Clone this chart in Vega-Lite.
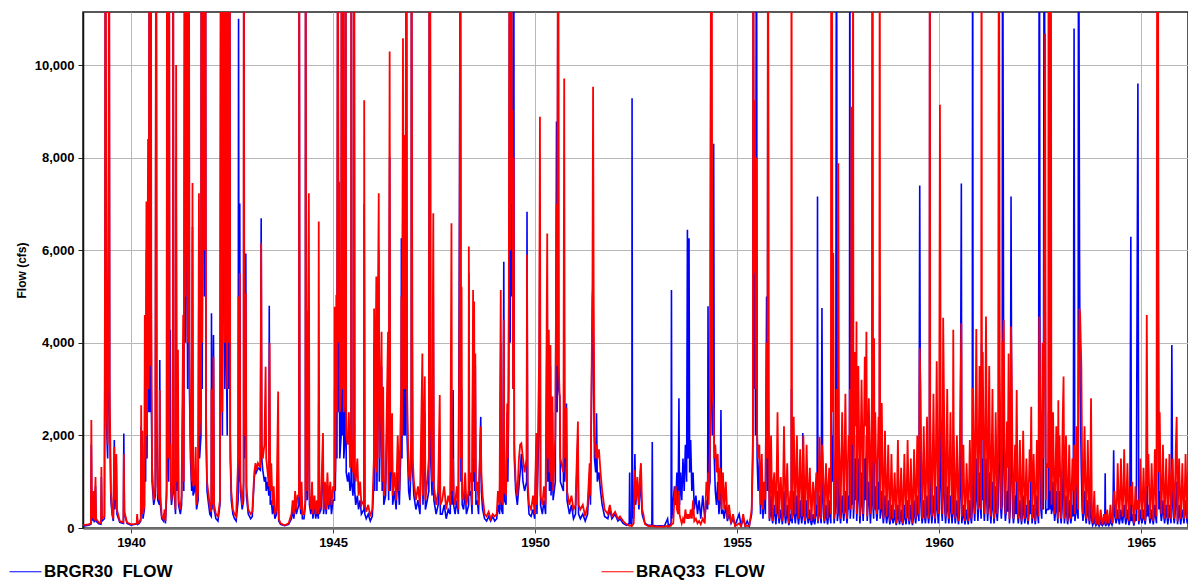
{
"$schema":"https://vega.github.io/schema/vega-lite/v6.json",
"width":1105,"height":516,
"autosize":{"type":"none"},
"padding":{"left":83,"top":12,"right":0,"bottom":52},
"background":"white",
"config":{"view":{"stroke":"#222","strokeWidth":1.5},"font":"Liberation Sans"},
"data":{"values":[
{"t":1938.81,"b":40,"r":60},{"t":1938.95,"b":60,"r":80},{"t":1939.005,"b":80,"r":100},{"t":1939.016,"b":1800,"r":2330},{"t":1939.03,"b":300,"r":400},{"t":1939.06,"b":150,"r":200},{"t":1939.075,"b":500,"r":800},{"t":1939.09,"b":120,"r":160},{"t":1939.12,"b":900,"r":1100},{"t":1939.135,"b":150,"r":200},{"t":1939.2,"b":90,"r":120},{"t":1939.255,"b":80,"r":100},{"t":1939.265,"b":1100,"r":1320},{"t":1939.28,"b":150,"r":200},{"t":1939.34,"b":200,"r":250},{"t":1939.355,"b":4900,"r":6000},{"t":1939.365,"b":16000,"r":16000},{"t":1939.38,"b":4000,"r":9640},{"t":1939.395,"b":2200,"r":2600},{"t":1939.42,"b":1500,"r":1800},{"t":1939.445,"b":5000,"r":8000},{"t":1939.455,"b":16000,"r":16000},{"t":1939.47,"b":2500,"r":3000},{"t":1939.5,"b":600,"r":800},{"t":1939.53,"b":300,"r":350},{"t":1939.56,"b":150,"r":200},{"t":1939.585,"b":1900,"r":1750},{"t":1939.6,"b":400,"r":600},{"t":1939.635,"b":1400,"r":1600},{"t":1939.65,"b":300,"r":400},{"t":1939.72,"b":120,"r":150},{"t":1939.81,"b":100,"r":120},{"t":1939.82,"b":2040,"r":1600},{"t":1939.835,"b":300,"r":350},{"t":1939.9,"b":100,"r":120},{"t":1940.0,"b":60,"r":80},{"t":1940.1,"b":80,"r":90},{"t":1940.14,"b":90,"r":100},{"t":1940.15,"b":250,"r":300},{"t":1940.165,"b":80,"r":100},{"t":1940.2,"b":100,"r":120},{"t":1940.24,"b":150,"r":200},{"t":1940.25,"b":2200,"r":2650},{"t":1940.265,"b":300,"r":400},{"t":1940.28,"b":1800,"r":2100},{"t":1940.295,"b":200,"r":300},{"t":1940.33,"b":400,"r":500},{"t":1940.34,"b":3500,"r":4600},{"t":1940.36,"b":1000,"r":1500},{"t":1940.38,"b":6000,"r":7050},{"t":1940.395,"b":1500,"r":2000},{"t":1940.42,"b":7500,"r":8400},{"t":1940.435,"b":2500,"r":3000},{"t":1940.455,"b":16000,"r":16000},{"t":1940.47,"b":2500,"r":3500},{"t":1940.49,"b":16000,"r":16000},{"t":1940.5,"b":3000,"r":4850},{"t":1940.52,"b":1000,"r":1300},{"t":1940.56,"b":500,"r":600},{"t":1940.6,"b":700,"r":900},{"t":1940.62,"b":16000,"r":16000},{"t":1940.635,"b":2000,"r":2500},{"t":1940.66,"b":600,"r":800},{"t":1940.7,"b":500,"r":600},{"t":1940.71,"b":3630,"r":2980},{"t":1940.725,"b":500,"r":700},{"t":1940.76,"b":200,"r":250},{"t":1940.8,"b":150,"r":200},{"t":1940.83,"b":300,"r":400},{"t":1940.85,"b":100,"r":150},{"t":1940.88,"b":700,"r":900},{"t":1940.89,"b":16000,"r":16000},{"t":1940.9,"b":2000,"r":2500},{"t":1940.93,"b":1000,"r":1500},{"t":1940.94,"b":16000,"r":16000},{"t":1940.955,"b":1500,"r":1800},{"t":1940.97,"b":4280,"r":1800},{"t":1940.985,"b":800,"r":1000},{"t":1941.0,"b":500,"r":600},{"t":1941.035,"b":800,"r":1000},{"t":1941.04,"b":16000,"r":16000},{"t":1941.055,"b":1000,"r":1500},{"t":1941.08,"b":600,"r":800},{"t":1941.1,"b":300,"r":400},{"t":1941.115,"b":8000,"r":10000},{"t":1941.13,"b":800,"r":1000},{"t":1941.16,"b":3000,"r":3850},{"t":1941.175,"b":500,"r":600},{"t":1941.22,"b":300,"r":400},{"t":1941.25,"b":500,"r":700},{"t":1941.29,"b":3500,"r":4600},{"t":1941.305,"b":800,"r":1000},{"t":1941.33,"b":16000,"r":16000},{"t":1941.345,"b":4000,"r":5000},{"t":1941.37,"b":16000,"r":16000},{"t":1941.385,"b":6000,"r":8000},{"t":1941.4,"b":3000,"r":4000},{"t":1941.43,"b":16000,"r":16000},{"t":1941.445,"b":3000,"r":4000},{"t":1941.47,"b":1500,"r":2000},{"t":1941.5,"b":800,"r":1000},{"t":1941.52,"b":6500,"r":7450},{"t":1941.535,"b":700,"r":900},{"t":1941.57,"b":800,"r":960},{"t":1941.6,"b":1200,"r":1750},{"t":1941.62,"b":400,"r":500},{"t":1941.66,"b":600,"r":800},{"t":1941.68,"b":6000,"r":7230},{"t":1941.695,"b":1500,"r":2000},{"t":1941.73,"b":2000,"r":3000},{"t":1941.74,"b":16000,"r":16000},{"t":1941.76,"b":3000,"r":4000},{"t":1941.8,"b":16000,"r":16000},{"t":1941.815,"b":5000,"r":6000},{"t":1941.84,"b":16000,"r":16000},{"t":1941.855,"b":2000,"r":2500},{"t":1941.88,"b":800,"r":1000},{"t":1941.92,"b":500,"r":700},{"t":1941.95,"b":300,"r":450},{"t":1941.985,"b":250,"r":350},{"t":1941.99,"b":4640,"r":3000},{"t":1942.005,"b":400,"r":500},{"t":1942.04,"b":4170,"r":3700},{"t":1942.055,"b":400,"r":500},{"t":1942.1,"b":200,"r":300},{"t":1942.15,"b":150,"r":250},{"t":1942.2,"b":500,"r":600},{"t":1942.225,"b":16000,"r":16000},{"t":1942.24,"b":4000,"r":6000},{"t":1942.26,"b":2000,"r":2500},{"t":1942.28,"b":16000,"r":16000},{"t":1942.295,"b":6000,"r":9030},{"t":1942.32,"b":3000,"r":4000},{"t":1942.34,"b":16000,"r":16000},{"t":1942.355,"b":4000,"r":5000},{"t":1942.38,"b":2000,"r":3000},{"t":1942.4,"b":16000,"r":16000},{"t":1942.415,"b":3000,"r":4000},{"t":1942.44,"b":16000,"r":16000},{"t":1942.455,"b":1500,"r":2000},{"t":1942.48,"b":600,"r":800},{"t":1942.52,"b":300,"r":400},{"t":1942.56,"b":200,"r":300},{"t":1942.6,"b":150,"r":250},{"t":1942.65,"b":600,"r":1500},{"t":1942.66,"b":11000,"r":5000},{"t":1942.675,"b":1000,"r":1500},{"t":1942.69,"b":7010,"r":5500},{"t":1942.705,"b":800,"r":1000},{"t":1942.75,"b":400,"r":500},{"t":1942.785,"b":600,"r":1000},{"t":1942.79,"b":16000,"r":16000},{"t":1942.805,"b":1500,"r":2000},{"t":1942.84,"b":5930,"r":5070},{"t":1942.855,"b":700,"r":900},{"t":1942.9,"b":300,"r":400},{"t":1942.96,"b":200,"r":300},{"t":1943.0,"b":250,"r":350},{"t":1943.05,"b":1100,"r":1200},{"t":1943.08,"b":1250,"r":1400},{"t":1943.1,"b":1200,"r":1250},{"t":1943.14,"b":1300,"r":1400},{"t":1943.2,"b":1250,"r":1300},{"t":1943.22,"b":6690,"r":6150},{"t":1943.235,"b":1500,"r":1800},{"t":1943.26,"b":1250,"r":1500},{"t":1943.3,"b":1000,"r":1800},{"t":1943.33,"b":1100,"r":3480},{"t":1943.345,"b":800,"r":1500},{"t":1943.38,"b":1000,"r":1200},{"t":1943.41,"b":700,"r":900},{"t":1943.42,"b":4800,"r":3000},{"t":1943.43,"b":2000,"r":3990},{"t":1943.445,"b":500,"r":800},{"t":1943.47,"b":600,"r":1400},{"t":1943.5,"b":300,"r":500},{"t":1943.53,"b":500,"r":900},{"t":1943.56,"b":200,"r":300},{"t":1943.6,"b":300,"r":400},{"t":1943.64,"b":1500,"r":2950},{"t":1943.655,"b":150,"r":200},{"t":1943.7,"b":80,"r":100},{"t":1943.8,"b":50,"r":60},{"t":1943.9,"b":80,"r":100},{"t":1943.97,"b":200,"r":300},{"t":1944.0,"b":400,"r":600},{"t":1944.03,"b":200,"r":300},{"t":1944.06,"b":600,"r":800},{"t":1944.09,"b":300,"r":400},{"t":1944.12,"b":400,"r":700},{"t":1944.155,"b":500,"r":700},{"t":1944.16,"b":16000,"r":16000},{"t":1944.175,"b":700,"r":1000},{"t":1944.2,"b":300,"r":400},{"t":1944.22,"b":700,"r":1000},{"t":1944.24,"b":200,"r":300},{"t":1944.28,"b":200,"r":300},{"t":1944.315,"b":500,"r":600},{"t":1944.32,"b":16000,"r":16000},{"t":1944.335,"b":1500,"r":2000},{"t":1944.36,"b":600,"r":800},{"t":1944.385,"b":4700,"r":5000},{"t":1944.4,"b":3000,"r":7230},{"t":1944.415,"b":500,"r":700},{"t":1944.45,"b":300,"r":400},{"t":1944.48,"b":800,"r":1000},{"t":1944.5,"b":200,"r":300},{"t":1944.54,"b":500,"r":700},{"t":1944.57,"b":200,"r":300},{"t":1944.6,"b":400,"r":600},{"t":1944.635,"b":200,"r":300},{"t":1944.645,"b":2730,"r":6620},{"t":1944.66,"b":300,"r":400},{"t":1944.7,"b":400,"r":600},{"t":1944.75,"b":1500,"r":2050},{"t":1944.765,"b":300,"r":400},{"t":1944.8,"b":700,"r":1000},{"t":1944.83,"b":300,"r":400},{"t":1944.86,"b":900,"r":1200},{"t":1944.89,"b":400,"r":500},{"t":1944.93,"b":700,"r":1000},{"t":1944.96,"b":300,"r":500},{"t":1945.0,"b":600,"r":900},{"t":1945.035,"b":600,"r":800},{"t":1945.04,"b":3000,"r":4780},{"t":1945.055,"b":800,"r":1200},{"t":1945.08,"b":3000,"r":5030},{"t":1945.095,"b":1500,"r":2500},{"t":1945.12,"b":16000,"r":16000},{"t":1945.135,"b":2500,"r":4000},{"t":1945.15,"b":5000,"r":7480},{"t":1945.165,"b":1500,"r":2500},{"t":1945.2,"b":2000,"r":3000},{"t":1945.21,"b":16000,"r":16000},{"t":1945.225,"b":2000,"r":3000},{"t":1945.25,"b":16000,"r":16000},{"t":1945.265,"b":1500,"r":2500},{"t":1945.3,"b":2000,"r":3000},{"t":1945.31,"b":16000,"r":16000},{"t":1945.325,"b":1200,"r":2000},{"t":1945.36,"b":1000,"r":1800},{"t":1945.39,"b":1200,"r":2500},{"t":1945.42,"b":800,"r":1300},{"t":1945.445,"b":1000,"r":1800},{"t":1945.45,"b":16000,"r":16000},{"t":1945.465,"b":1000,"r":2000},{"t":1945.49,"b":700,"r":1200},{"t":1945.515,"b":1000,"r":1500},{"t":1945.52,"b":16000,"r":16000},{"t":1945.535,"b":800,"r":1200},{"t":1945.56,"b":500,"r":1000},{"t":1945.6,"b":700,"r":1500},{"t":1945.63,"b":400,"r":700},{"t":1945.67,"b":600,"r":1000},{"t":1945.7,"b":300,"r":500},{"t":1945.765,"b":400,"r":600},{"t":1945.77,"b":7000,"r":9240},{"t":1945.785,"b":300,"r":500},{"t":1945.82,"b":200,"r":350},{"t":1945.87,"b":300,"r":500},{"t":1945.92,"b":150,"r":250},{"t":1945.97,"b":250,"r":400},{"t":1946.01,"b":1000,"r":1500},{"t":1946.015,"b":4000,"r":4740},{"t":1946.03,"b":800,"r":1300},{"t":1946.07,"b":4500,"r":5430},{"t":1946.085,"b":800,"r":1200},{"t":1946.13,"b":6000,"r":7230},{"t":1946.145,"b":1000,"r":1500},{"t":1946.2,"b":3500,"r":4240},{"t":1946.215,"b":800,"r":1000},{"t":1946.24,"b":2500,"r":3050},{"t":1946.255,"b":500,"r":700},{"t":1946.3,"b":700,"r":1000},{"t":1946.36,"b":3500,"r":4240},{"t":1946.375,"b":600,"r":800},{"t":1946.4,"b":8000,"r":10290},{"t":1946.415,"b":800,"r":1200},{"t":1946.46,"b":2000,"r":2480},{"t":1946.475,"b":500,"r":700},{"t":1946.52,"b":800,"r":1200},{"t":1946.56,"b":400,"r":600},{"t":1946.6,"b":1200,"r":2000},{"t":1946.64,"b":500,"r":800},{"t":1946.685,"b":2000,"r":3000},{"t":1946.69,"b":6260,"r":5000},{"t":1946.705,"b":1500,"r":2000},{"t":1946.73,"b":8000,"r":10580},{"t":1946.745,"b":2000,"r":3000},{"t":1946.77,"b":7000,"r":8490},{"t":1946.785,"b":2000,"r":3000},{"t":1946.815,"b":16000,"r":16000},{"t":1946.83,"b":2000,"r":3000},{"t":1946.87,"b":800,"r":1200},{"t":1946.9,"b":600,"r":1000},{"t":1946.935,"b":1500,"r":2000},{"t":1946.94,"b":16000,"r":16000},{"t":1946.955,"b":5000,"r":7090},{"t":1946.97,"b":1200,"r":1500},{"t":1947.0,"b":700,"r":1000},{"t":1947.05,"b":400,"r":600},{"t":1947.1,"b":600,"r":900},{"t":1947.15,"b":300,"r":500},{"t":1947.21,"b":2500,"r":3770},{"t":1947.225,"b":500,"r":700},{"t":1947.27,"b":2500,"r":3270},{"t":1947.285,"b":400,"r":600},{"t":1947.33,"b":600,"r":1000},{"t":1947.37,"b":800,"r":1500},{"t":1947.385,"b":16000,"r":16000},{"t":1947.4,"b":16000,"r":16000},{"t":1947.415,"b":1500,"r":2500},{"t":1947.45,"b":700,"r":1000},{"t":1947.48,"b":5000,"r":6800},{"t":1947.495,"b":600,"r":900},{"t":1947.55,"b":300,"r":500},{"t":1947.6,"b":500,"r":800},{"t":1947.64,"b":2000,"r":2870},{"t":1947.655,"b":300,"r":500},{"t":1947.7,"b":300,"r":600},{"t":1947.75,"b":500,"r":900},{"t":1947.8,"b":200,"r":400},{"t":1947.85,"b":400,"r":700},{"t":1947.9,"b":300,"r":500},{"t":1947.93,"b":2500,"r":6580},{"t":1947.945,"b":500,"r":800},{"t":1947.97,"b":2980,"r":1500},
{"t":1947.985,"b":500,"r":700},{"t":1948.02,"b":300,"r":500},{"t":1948.06,"b":600,"r":900},{"t":1948.1,"b":300,"r":400},{"t":1948.13,"b":7520,"r":5000},{"t":1948.15,"b":16000,"r":16000},{"t":1948.165,"b":1000,"r":1500},{"t":1948.18,"b":3000,"r":5210},{"t":1948.195,"b":500,"r":700},{"t":1948.23,"b":400,"r":600},{"t":1948.27,"b":800,"r":1200},{"t":1948.3,"b":300,"r":500},{"t":1948.355,"b":500,"r":800},{"t":1948.36,"b":5500,"r":6080},{"t":1948.375,"b":700,"r":1000},{"t":1948.41,"b":800,"r":1200},{"t":1948.44,"b":300,"r":500},{"t":1948.465,"b":4500,"r":5140},{"t":1948.48,"b":1000,"r":1500},{"t":1948.49,"b":4500,"r":4890},{"t":1948.505,"b":800,"r":1200},{"t":1948.52,"b":3500,"r":3770},{"t":1948.535,"b":500,"r":800},{"t":1948.57,"b":600,"r":1000},{"t":1948.6,"b":300,"r":500},{"t":1948.655,"b":2400,"r":2190},{"t":1948.67,"b":800,"r":1200},{"t":1948.7,"b":400,"r":700},{"t":1948.75,"b":200,"r":300},{"t":1948.8,"b":150,"r":250},{"t":1948.85,"b":250,"r":350},{"t":1948.9,"b":150,"r":200},{"t":1948.95,"b":250,"r":300},{"t":1949.0,"b":150,"r":250},{"t":1949.05,"b":200,"r":300},{"t":1949.08,"b":500,"r":800},{"t":1949.12,"b":300,"r":500},{"t":1949.15,"b":4000,"r":5140},{"t":1949.165,"b":400,"r":600},{"t":1949.2,"b":300,"r":500},{"t":1949.225,"b":5750,"r":4500},{"t":1949.24,"b":600,"r":800},{"t":1949.28,"b":500,"r":700},{"t":1949.31,"b":2500,"r":2690},{"t":1949.325,"b":1000,"r":1500},{"t":1949.35,"b":3000,"r":5000},{"t":1949.37,"b":16000,"r":16000},{"t":1949.385,"b":4000,"r":6000},{"t":1949.41,"b":16000,"r":16000},{"t":1949.425,"b":5000,"r":7000},{"t":1949.44,"b":8000,"r":9030},{"t":1949.455,"b":3000,"r":3000},{"t":1949.47,"b":16000,"r":8000},{"t":1949.485,"b":1500,"r":1800},{"t":1949.52,"b":800,"r":1000},{"t":1949.56,"b":500,"r":700},{"t":1949.6,"b":900,"r":1500},{"t":1949.63,"b":1200,"r":1800},{"t":1949.66,"b":1600,"r":1830},{"t":1949.7,"b":1000,"r":1500},{"t":1949.74,"b":800,"r":1200},{"t":1949.79,"b":1000,"r":1500},{"t":1949.8,"b":6830,"r":5900},{"t":1949.815,"b":800,"r":1000},{"t":1949.85,"b":300,"r":500},{"t":1949.9,"b":250,"r":400},{"t":1949.95,"b":400,"r":700},{"t":1949.99,"b":200,"r":300},{"t":1950.03,"b":1800,"r":2050},{"t":1950.045,"b":300,"r":500},{"t":1950.1,"b":2500,"r":3630},{"t":1950.12,"b":7000,"r":8880},{"t":1950.135,"b":500,"r":700},{"t":1950.18,"b":300,"r":500},{"t":1950.22,"b":600,"r":900},{"t":1950.26,"b":300,"r":500},{"t":1950.3,"b":5000,"r":6360},{"t":1950.315,"b":1000,"r":1500},{"t":1950.34,"b":3500,"r":4280},{"t":1950.355,"b":800,"r":1200},{"t":1950.38,"b":3500,"r":3950},{"t":1950.395,"b":700,"r":1000},{"t":1950.43,"b":2500,"r":2840},{"t":1950.445,"b":600,"r":800},{"t":1950.5,"b":1000,"r":2000},{"t":1950.53,"b":8780,"r":7000},{"t":1950.545,"b":2500,"r":3500},{"t":1950.57,"b":16000,"r":16000},{"t":1950.585,"b":3000,"r":3500},{"t":1950.61,"b":2840,"r":2800},{"t":1950.625,"b":1000,"r":1500},{"t":1950.7,"b":800,"r":1200},{"t":1950.72,"b":4420,"r":9710},{"t":1950.735,"b":1000,"r":1500},{"t":1950.775,"b":2690,"r":2600},{"t":1950.79,"b":600,"r":800},{"t":1950.85,"b":300,"r":500},{"t":1950.9,"b":500,"r":700},{"t":1950.95,"b":200,"r":400},{"t":1951.0,"b":300,"r":500},{"t":1951.06,"b":2000,"r":2300},{"t":1951.075,"b":300,"r":500},{"t":1951.12,"b":200,"r":400},{"t":1951.18,"b":300,"r":500},{"t":1951.24,"b":150,"r":250},{"t":1951.3,"b":300,"r":500},{"t":1951.35,"b":1200,"r":1400},{"t":1951.37,"b":500,"r":700},{"t":1951.42,"b":5000,"r":5280},{"t":1951.435,"b":5280,"r":9530},{"t":1951.45,"b":3000,"r":5000},{"t":1951.47,"b":1500,"r":2000},{"t":1951.5,"b":1200,"r":1500},{"t":1951.52,"b":2480,"r":1800},{"t":1951.54,"b":1000,"r":1500},{"t":1951.58,"b":1200,"r":1700},{"t":1951.62,"b":800,"r":1200},{"t":1951.66,"b":500,"r":800},{"t":1951.72,"b":250,"r":400},{"t":1951.8,"b":200,"r":300},{"t":1951.85,"b":400,"r":500},{"t":1951.9,"b":200,"r":250},{"t":1951.98,"b":300,"r":350},{"t":1952.05,"b":150,"r":200},{"t":1952.1,"b":200,"r":250},{"t":1952.18,"b":100,"r":150},{"t":1952.26,"b":60,"r":80},{"t":1952.33,"b":100,"r":50},{"t":1952.34,"b":1200,"r":60},{"t":1952.355,"b":100,"r":50},{"t":1952.395,"b":80,"r":40},{"t":1952.4,"b":9280,"r":50},{"t":1952.41,"b":300,"r":60},{"t":1952.44,"b":200,"r":100},{"t":1952.47,"b":1600,"r":1250},{"t":1952.49,"b":500,"r":600},{"t":1952.53,"b":1000,"r":1100},
{"t":1952.57,"b":400,"r":500},{"t":1952.6,"b":1000,"r":1200},{"t":1952.62,"b":800,"r":1400},{"t":1952.65,"b":300,"r":400},{"t":1952.68,"b":200,"r":300},{"t":1952.72,"b":100,"r":80},{"t":1952.8,"b":60,"r":40},{"t":1952.89,"b":60,"r":40},{"t":1952.9,"b":1860,"r":50},{"t":1952.91,"b":60,"r":40},{"t":1953.0,"b":40,"r":30},{"t":1953.1,"b":50,"r":30},{"t":1953.2,"b":40,"r":30},{"t":1953.28,"b":200,"r":50},{"t":1953.3,"b":40,"r":30},{"t":1953.365,"b":100,"r":50},{"t":1953.375,"b":5140,"r":100},{"t":1953.385,"b":200,"r":80},{"t":1953.42,"b":600,"r":100},{"t":1953.45,"b":900,"r":700},{"t":1953.48,"b":500,"r":900},{"t":1953.51,"b":1200,"r":400},{"t":1953.54,"b":400,"r":300},{"t":1953.56,"b":2800,"r":800},{"t":1953.575,"b":500,"r":300},{"t":1953.6,"b":1200,"r":200},{"t":1953.63,"b":600,"r":100},{"t":1953.66,"b":1500,"r":200},{"t":1953.69,"b":800,"r":100},{"t":1953.72,"b":1800,"r":400},{"t":1953.75,"b":1000,"r":200},{"t":1953.77,"b":6440,"r":300},{"t":1953.785,"b":1500,"r":200},{"t":1953.81,"b":6260,"r":300},{"t":1953.825,"b":1200,"r":200},{"t":1953.85,"b":1900,"r":400},{"t":1953.88,"b":800,"r":200},{"t":1953.91,"b":1200,"r":600},{"t":1953.94,"b":400,"r":150},{"t":1953.98,"b":700,"r":200},{"t":1954.02,"b":300,"r":100},{"t":1954.06,"b":600,"r":150},{"t":1954.1,"b":200,"r":80},{"t":1954.15,"b":700,"r":200},{"t":1954.2,"b":200,"r":100},{"t":1954.24,"b":600,"r":1000},{"t":1954.27,"b":400,"r":700},{"t":1954.28,"b":4790,"r":1200},{"t":1954.295,"b":800,"r":500},{"t":1954.33,"b":1000,"r":1800},{"t":1954.36,"b":16000,"r":16000},{"t":1954.37,"b":3000,"r":16000},{"t":1954.385,"b":2000,"r":3000},{"t":1954.42,"b":8300,"r":2500},{"t":1954.435,"b":1500,"r":1500},{"t":1954.46,"b":800,"r":1800},{"t":1954.49,"b":500,"r":1200},{"t":1954.52,"b":1000,"r":1600},{"t":1954.55,"b":300,"r":600},{"t":1954.58,"b":600,"r":1300},{"t":1954.6,"b":2550,"r":900},{"t":1954.615,"b":300,"r":400},{"t":1954.65,"b":400,"r":1200},{"t":1954.68,"b":200,"r":400},{"t":1954.72,"b":500,"r":1000},{"t":1954.76,"b":150,"r":200},{"t":1954.8,"b":300,"r":500},{"t":1954.85,"b":100,"r":100},{"t":1954.9,"b":200,"r":300},{"t":1954.95,"b":60,"r":40},{"t":1955.05,"b":300,"r":100},{"t":1955.1,"b":50,"r":30},{"t":1955.15,"b":200,"r":300},{"t":1955.2,"b":50,"r":40},{"t":1955.25,"b":150,"r":50},{"t":1955.3,"b":40,"r":40},{"t":1955.36,"b":300,"r":400},{"t":1955.39,"b":2000,"r":1500},{"t":1955.4,"b":16000,"r":16000},{"t":1955.415,"b":3000,"r":5500},{"t":1955.44,"b":6000,"r":9240},{"t":1955.455,"b":2000,"r":3000},{"t":1955.48,"b":16000,"r":8000},{"t":1955.495,"b":1500,"r":2000},{"t":1955.52,"b":800,"r":1500},{"t":1955.55,"b":1500,"r":1800},{"t":1955.58,"b":300,"r":500},{"t":1955.61,"b":1200,"r":1600},{"t":1955.64,"b":200,"r":400},{"t":1955.67,"b":800,"r":1000},{"t":1955.7,"b":300,"r":600},{"t":1955.73,"b":5000,"r":4000},{"t":1955.75,"b":800,"r":1500},{"t":1955.765,"b":16000,"r":16000},{"t":1955.78,"b":2000,"r":3000},
{"t":1955.80,"b":150,"r":200},{"t":1955.84,"b":700,"r":2000},{"t":1955.88,"b":100,"r":150},{"t":1955.92,"b":500,"r":1200},{"t":1955.96,"b":80,"r":300},{"t":1956.00,"b":800,"r":2500},{"t":1956.04,"b":100,"r":200},{"t":1956.08,"b":400,"r":1100},{"t":1956.12,"b":80,"r":150},{"t":1956.16,"b":800,"r":2200},{"t":1956.20,"b":100,"r":250},{"t":1956.24,"b":500,"r":1400},{"t":1956.28,"b":60,"r":100},{"t":1956.32,"b":300,"r":800},{"t":1956.345,"b":3000,"r":16000},{"t":1956.36,"b":100,"r":200},{"t":1956.40,"b":800,"r":2400},{"t":1956.44,"b":100,"r":300},{"t":1956.48,"b":700,"r":2000},{"t":1956.52,"b":80,"r":200},{"t":1956.56,"b":600,"r":1700},{"t":1956.60,"b":100,"r":250},{"t":1956.625,"b":2050,"r":1500},{"t":1956.64,"b":500,"r":2000},{"t":1956.68,"b":80,"r":150},{"t":1956.72,"b":600,"r":1800},{"t":1956.76,"b":100,"r":200},{"t":1956.80,"b":400,"r":1300},{"t":1956.84,"b":60,"r":150},{"t":1956.88,"b":300,"r":1000},{"t":1956.92,"b":80,"r":200},{"t":1956.96,"b":500,"r":1200},{"t":1956.99,"b":7160,"r":800},{"t":1957.00,"b":100,"r":150},{"t":1957.04,"b":700,"r":1970},{"t":1957.08,"b":100,"r":200},{"t":1957.10,"b":4750,"r":1800},{"t":1957.12,"b":600,"r":1500},{"t":1957.16,"b":100,"r":150},{"t":1957.20,"b":500,"r":1400},{"t":1957.24,"b":80,"r":200},{"t":1957.28,"b":600,"r":1300},{"t":1957.32,"b":100,"r":300},{"t":1957.33,"b":3000,"r":16000},{"t":1957.345,"b":2000,"r":16000},{"t":1957.36,"b":1000,"r":2500},{"t":1957.38,"b":2000,"r":5940},{"t":1957.40,"b":100,"r":200},{"t":1957.44,"b":500,"r":1300},{"t":1957.46,"b":16000,"r":3000},{"t":1957.48,"b":150,"r":300},{"t":1957.505,"b":3000,"r":7880},{"t":1957.52,"b":800,"r":2000},{"t":1957.56,"b":100,"r":200},{"t":1957.60,"b":700,"r":2500},{"t":1957.64,"b":150,"r":300},{"t":1957.68,"b":800,"r":2900},{"t":1957.72,"b":100,"r":200},{"t":1957.76,"b":700,"r":2000},{"t":1957.79,"b":16000,"r":3000},{"t":1957.80,"b":200,"r":400},{"t":1957.83,"b":5000,"r":9100},{"t":1957.84,"b":1200,"r":3000},{"t":1957.87,"b":3000,"r":16000},{"t":1957.88,"b":200,"r":400},{"t":1957.92,"b":1500,"r":3800},{"t":1957.955,"b":2000,"r":4460},{"t":1957.96,"b":150,"r":300},{"t":1958.00,"b":1500,"r":3500},{"t":1958.04,"b":100,"r":250},{"t":1958.08,"b":1200,"r":3200},{"t":1958.12,"b":150,"r":300},{"t":1958.16,"b":1500,"r":3700},{"t":1958.20,"b":2000,"r":4240},{"t":1958.22,"b":150,"r":250},{"t":1958.26,"b":1000,"r":2800},{"t":1958.30,"b":100,"r":300},{"t":1958.34,"b":1500,"r":3000},{"t":1958.35,"b":16000,"r":16000},{"t":1958.38,"b":200,"r":400},{"t":1958.39,"b":2500,"r":4100},{"t":1958.42,"b":900,"r":2500},{"t":1958.46,"b":150,"r":300},{"t":1958.50,"b":1000,"r":2400},{"t":1958.53,"b":5000,"r":16000},{"t":1958.54,"b":200,"r":400},{"t":1958.58,"b":800,"r":2700},{"t":1958.62,"b":100,"r":200},{"t":1958.66,"b":700,"r":2100},{"t":1958.70,"b":100,"r":250},{"t":1958.74,"b":600,"r":1800},{"t":1958.78,"b":80,"r":150},{"t":1958.82,"b":500,"r":1600},{"t":1958.86,"b":100,"r":200},{"t":1958.90,"b":400,"r":1200},{"t":1958.94,"b":60,"r":100},{"t":1958.98,"b":500,"r":1900},{"t":1959.02,"b":80,"r":150},{"t":1959.06,"b":400,"r":1300},{"t":1959.10,"b":60,"r":100},{"t":1959.14,"b":500,"r":1600},{"t":1959.18,"b":80,"r":200},{"t":1959.22,"b":600,"r":1900},{"t":1959.26,"b":80,"r":150},{"t":1959.30,"b":500,"r":1500},{"t":1959.34,"b":60,"r":100},{"t":1959.38,"b":600,"r":1700},{"t":1959.42,"b":100,"r":200},{"t":1959.46,"b":700,"r":2000},{"t":1959.50,"b":150,"r":300},{"t":1959.52,"b":7400,"r":3880},{"t":1959.54,"b":800,"r":3000},{"t":1959.58,"b":100,"r":200},{"t":1959.62,"b":600,"r":2200},{"t":1959.66,"b":100,"r":200},{"t":1959.70,"b":700,"r":2400},{"t":1959.74,"b":100,"r":200},{"t":1959.77,"b":16000,"r":16000},{"t":1959.78,"b":1000,"r":2500},{"t":1959.82,"b":100,"r":250},{"t":1959.86,"b":700,"r":2900},{"t":1959.90,"b":100,"r":200},{"t":1959.94,"b":900,"r":3600},{"t":1959.98,"b":100,"r":300},{"t":1960.02,"b":3000,"r":9140},{"t":1960.04,"b":1000,"r":2500},{"t":1960.08,"b":150,"r":300},{"t":1960.10,"b":2500,"r":4540},{"t":1960.12,"b":800,"r":2800},{"t":1960.16,"b":100,"r":250},{"t":1960.20,"b":900,"r":3000},{"t":1960.24,"b":100,"r":200},{"t":1960.28,"b":700,"r":2500},{"t":1960.32,"b":100,"r":300},{"t":1960.35,"b":2000,"r":4280},{"t":1960.36,"b":800,"r":2200},{"t":1960.40,"b":100,"r":200},{"t":1960.44,"b":600,"r":2000},{"t":1960.48,"b":80,"r":150},{"t":1960.52,"b":700,"r":2200},{"t":1960.55,"b":7440,"r":4420},{"t":1960.56,"b":100,"r":250},{"t":1960.60,"b":500,"r":1800},{"t":1960.64,"b":80,"r":150},{"t":1960.68,"b":400,"r":1400},{"t":1960.72,"b":80,"r":150},{"t":1960.76,"b":600,"r":1900},{"t":1960.80,"b":100,"r":200},{"t":1960.83,"b":16000,"r":3000},{"t":1960.84,"b":1200,"r":3000},{"t":1960.88,"b":150,"r":300},{"t":1960.92,"b":1500,"r":4300},{"t":1960.96,"b":150,"r":400},{"t":1961.00,"b":1200,"r":3500},{"t":1961.04,"b":200,"r":400},{"t":1961.05,"b":4000,"r":16000},{"t":1961.08,"b":1500,"r":3800},{"t":1961.12,"b":150,"r":300},{"t":1961.16,"b":1500,"r":4570},{"t":1961.20,"b":150,"r":300},{"t":1961.24,"b":1200,"r":3500},{"t":1961.28,"b":100,"r":250},{"t":1961.32,"b":1000,"r":3000},{"t":1961.36,"b":100,"r":200},{"t":1961.40,"b":900,"r":2500},{"t":1961.44,"b":150,"r":300},{"t":1961.48,"b":3000,"r":16000},{"t":1961.50,"b":1500,"r":3500},{"t":1961.54,"b":200,"r":400},{"t":1961.57,"b":16000,"r":4000},{"t":1961.585,"b":9000,"r":4000},{"t":1961.60,"b":1500,"r":4500},{"t":1961.64,"b":150,"r":300},{"t":1961.68,"b":800,"r":2300},{"t":1961.72,"b":1500,"r":3770},{"t":1961.74,"b":100,"r":200},{"t":1961.78,"b":7160,"r":4350},{"t":1961.80,"b":1200,"r":3000},{"t":1961.84,"b":100,"r":200},{"t":1961.88,"b":700,"r":1800},{"t":1961.92,"b":1500,"r":2980},{"t":1961.96,"b":100,"r":200},{"t":1962.00,"b":600,"r":1900},{"t":1962.04,"b":80,"r":150},{"t":1962.08,"b":700,"r":2100},{"t":1962.12,"b":100,"r":200},{"t":1962.16,"b":500,"r":1500},{"t":1962.20,"b":80,"r":150},{"t":1962.24,"b":600,"r":1700},{"t":1962.28,"b":1500,"r":2620},{"t":1962.30,"b":100,"r":200},{"t":1962.34,"b":500,"r":1600},{"t":1962.38,"b":80,"r":150},{"t":1962.42,"b":700,"r":1900},{"t":1962.46,"b":100,"r":250},{"t":1962.48,"b":16000,"r":4570},{"t":1962.50,"b":1500,"r":3000},{"t":1962.54,"b":200,"r":400},{"t":1962.56,"b":2000,"r":4000},{"t":1962.60,"b":16000,"r":5000},{"t":1962.625,"b":6000,"r":10680},{"t":1962.64,"b":300,"r":600},{"t":1962.71,"b":2500,"r":16000},{"t":1962.74,"b":400,"r":800},{"t":1962.765,"b":3000,"r":16000},{"t":1962.78,"b":300,"r":500},{"t":1962.82,"b":1000,"r":2500},{"t":1962.86,"b":150,"r":300},{"t":1962.90,"b":800,"r":2200},{"t":1962.94,"b":100,"r":200},{"t":1962.95,"b":1500,"r":2760},{"t":1962.98,"b":800,"r":2000},{"t":1963.02,"b":100,"r":200},{"t":1963.06,"b":900,"r":2400},{"t":1963.08,"b":1500,"r":3270},{"t":1963.10,"b":100,"r":200},{"t":1963.14,"b":700,"r":2000},{"t":1963.18,"b":80,"r":150},{"t":1963.22,"b":600,"r":1800},{"t":1963.26,"b":100,"r":200},{"t":1963.30,"b":500,"r":1500},{"t":1963.34,"b":10790,"r":1800},{"t":1963.36,"b":150,"r":300},{"t":1963.40,"b":1000,"r":2200},{"t":1963.44,"b":200,"r":400},{"t":1963.45,"b":16000,"r":3000},{"t":1963.475,"b":6000,"r":4740},{"t":1963.49,"b":3000,"r":4600},{"t":1963.52,"b":1200,"r":3500},{"t":1963.56,"b":150,"r":300},{"t":1963.60,"b":800,"r":2200},{"t":1963.64,"b":100,"r":200},{"t":1963.68,"b":600,"r":1900},{"t":1963.72,"b":80,"r":150},{"t":1963.76,"b":1000,"r":2800},{"t":1963.80,"b":60,"r":100},{"t":1963.84,"b":300,"r":800},{"t":1963.88,"b":50,"r":80},{"t":1963.92,"b":200,"r":500},{"t":1963.96,"b":40,"r":60},{"t":1964.00,"b":200,"r":400},{"t":1964.04,"b":50,"r":80},{"t":1964.08,"b":150,"r":300},{"t":1964.11,"b":1180,"r":300},{"t":1964.12,"b":40,"r":80},{"t":1964.16,"b":200,"r":400},{"t":1964.20,"b":50,"r":100},{"t":1964.24,"b":300,"r":500},{"t":1964.28,"b":60,"r":100},{"t":1964.32,"b":1680,"r":700},{"t":1964.34,"b":300,"r":800},{"t":1964.38,"b":100,"r":200},{"t":1964.42,"b":400,"r":1400},{"t":1964.46,"b":80,"r":200},{"t":1964.50,"b":400,"r":1500},{"t":1964.54,"b":100,"r":250},{"t":1964.58,"b":500,"r":1700},{"t":1964.62,"b":80,"r":200},{"t":1964.66,"b":400,"r":1400},{"t":1964.70,"b":60,"r":150},{"t":1964.745,"b":6290,"r":900},{"t":1964.78,"b":300,"r":1000},{"t":1964.82,"b":50,"r":100},{"t":1964.86,"b":300,"r":900},{"t":1964.92,"b":9600,"r":600},{"t":1964.94,"b":80,"r":150},{"t":1964.98,"b":400,"r":1500},{"t":1965.02,"b":100,"r":200},{"t":1965.06,"b":400,"r":1300},{"t":1965.10,"b":80,"r":150},{"t":1965.14,"b":1500,"r":4600},{"t":1965.18,"b":500,"r":1600},{"t":1965.22,"b":100,"r":200},{"t":1965.26,"b":400,"r":1400},{"t":1965.30,"b":80,"r":150},{"t":1965.34,"b":500,"r":1700},{"t":1965.38,"b":100,"r":250},{"t":1965.40,"b":4000,"r":16000},{"t":1965.415,"b":8000,"r":16000},{"t":1965.43,"b":3000,"r":4420},{"t":1965.46,"b":800,"r":2500},{"t":1965.50,"b":150,"r":300},{"t":1965.54,"b":600,"r":1800},{"t":1965.58,"b":100,"r":200},{"t":1965.62,"b":500,"r":1500},{"t":1965.66,"b":80,"r":200},{"t":1965.70,"b":500,"r":1600},{"t":1965.74,"b":100,"r":200},{"t":1965.76,"b":3950,"r":1200},{"t":1965.78,"b":500,"r":1500},{"t":1965.82,"b":100,"r":200},{"t":1965.86,"b":600,"r":1800},{"t":1965.88,"b":1000,"r":2400},{"t":1965.90,"b":80,"r":150},{"t":1965.94,"b":500,"r":1500},{"t":1965.98,"b":80,"r":200},{"t":1966.02,"b":400,"r":1400},{"t":1966.06,"b":100,"r":200},{"t":1966.10,"b":600,"r":1600},{"t":1966.14,"b":100,"r":200},{"t":1966.16,"b":400,"r":1200},
{"t":1955.82,"b":300,"r":900},{"t":1955.86,"b":250,"r":800},{"t":1955.90,"b":300,"r":1000},{"t":1955.94,"b":250,"r":700},{"t":1955.98,"b":350,"r":1200},{"t":1956.02,"b":300,"r":1100},{"t":1956.06,"b":250,"r":800},{"t":1956.10,"b":200,"r":700},{"t":1956.14,"b":300,"r":1000},{"t":1956.18,"b":300,"r":1100},{"t":1956.22,"b":250,"r":900},{"t":1956.26,"b":200,"r":700},{"t":1956.30,"b":150,"r":500},{"t":1956.34,"b":150,"r":400},{"t":1956.38,"b":300,"r":1000},{"t":1956.42,"b":300,"r":1300},{"t":1956.46,"b":300,"r":1100},{"t":1956.50,"b":250,"r":1000},{"t":1956.54,"b":250,"r":900},{"t":1956.58,"b":250,"r":1000},{"t":1956.62,"b":300,"r":1100},{"t":1956.66,"b":250,"r":1000},{"t":1956.70,"b":250,"r":900},{"t":1956.74,"b":250,"r":1000},{"t":1956.78,"b":200,"r":800},{"t":1956.82,"b":150,"r":700},{"t":1956.86,"b":150,"r":600},{"t":1956.90,"b":150,"r":700},{"t":1956.94,"b":200,"r":800},{"t":1956.98,"b":250,"r":900},{"t":1957.02,"b":300,"r":1000},{"t":1957.06,"b":250,"r":900},{"t":1957.14,"b":250,"r":900},{"t":1957.18,"b":250,"r":800},{"t":1957.22,"b":200,"r":800},{"t":1957.26,"b":250,"r":900},{"t":1957.30,"b":250,"r":800},{"t":1957.42,"b":300,"r":900},{"t":1957.50,"b":300,"r":1200},{"t":1957.54,"b":350,"r":1300},{"t":1957.58,"b":350,"r":1400},{"t":1957.62,"b":350,"r":1500},{"t":1957.66,"b":400,"r":1600},{"t":1957.70,"b":350,"r":1400},{"t":1957.74,"b":350,"r":1300},{"t":1957.78,"b":400,"r":1500},{"t":1957.82,"b":500,"r":1800},{"t":1957.86,"b":500,"r":1800},{"t":1957.90,"b":600,"r":2200},{"t":1957.94,"b":600,"r":2200},{"t":1957.98,"b":600,"r":2000},{"t":1958.02,"b":600,"r":2000},{"t":1958.06,"b":500,"r":1900},{"t":1958.10,"b":500,"r":2000},{"t":1958.14,"b":600,"r":2100},{"t":1958.18,"b":600,"r":2200},{"t":1958.24,"b":500,"r":1800},{"t":1958.28,"b":500,"r":1600},{"t":1958.32,"b":500,"r":1700},{"t":1958.36,"b":500,"r":1600},{"t":1958.40,"b":400,"r":1400},{"t":1958.44,"b":400,"r":1300},{"t":1958.48,"b":400,"r":1400},{"t":1958.52,"b":400,"r":1500},{"t":1958.56,"b":400,"r":1400},{"t":1958.60,"b":300,"r":1200},{"t":1958.64,"b":300,"r":1100},{"t":1958.68,"b":300,"r":1000},{"t":1958.72,"b":250,"r":1000},{"t":1958.76,"b":250,"r":900},{"t":1958.80,"b":200,"r":800},{"t":1958.84,"b":200,"r":800},{"t":1958.88,"b":200,"r":700},{"t":1958.92,"b":150,"r":600},{"t":1958.96,"b":200,"r":900},{"t":1959.00,"b":200,"r":800},{"t":1959.04,"b":200,"r":700},{"t":1959.08,"b":150,"r":600},{"t":1959.12,"b":200,"r":800},{"t":1959.16,"b":200,"r":800},{"t":1959.20,"b":250,"r":900},{"t":1959.24,"b":250,"r":900},{"t":1959.28,"b":200,"r":800},{"t":1959.32,"b":200,"r":700},{"t":1959.36,"b":200,"r":800},{"t":1959.40,"b":250,"r":900},{"t":1959.44,"b":300,"r":1000},{"t":1959.48,"b":300,"r":1000},{"t":1959.56,"b":300,"r":1300},{"t":1959.60,"b":250,"r":1100},{"t":1959.64,"b":250,"r":1000},{"t":1959.68,"b":300,"r":1200},{"t":1959.72,"b":300,"r":1100},{"t":1959.76,"b":300,"r":1200},{"t":1959.80,"b":350,"r":1300},{"t":1959.84,"b":350,"r":1400},{"t":1959.88,"b":350,"r":1400},{"t":1959.92,"b":400,"r":1600},{"t":1959.96,"b":400,"r":1600},{"t":1960.00,"b":400,"r":1500},{"t":1960.06,"b":400,"r":1500},{"t":1960.14,"b":400,"r":1400},{"t":1960.18,"b":400,"r":1500},{"t":1960.22,"b":350,"r":1400},{"t":1960.26,"b":350,"r":1300},{"t":1960.30,"b":350,"r":1300},{"t":1960.34,"b":350,"r":1200},{"t":1960.38,"b":300,"r":1100},{"t":1960.42,"b":300,"r":1000},{"t":1960.46,"b":250,"r":1000},{"t":1960.50,"b":300,"r":1100},{"t":1960.58,"b":250,"r":900},{"t":1960.62,"b":200,"r":800},{"t":1960.66,"b":200,"r":700},{"t":1960.70,"b":200,"r":800},{"t":1960.74,"b":250,"r":900},{"t":1960.78,"b":250,"r":1000},{"t":1960.82,"b":400,"r":1400},{"t":1960.86,"b":500,"r":1700},{"t":1960.90,"b":600,"r":2000},{"t":1960.94,"b":600,"r":2000},{"t":1960.98,"b":500,"r":1800},{"t":1961.02,"b":500,"r":1800},{"t":1961.06,"b":600,"r":1900},{"t":1961.10,"b":500,"r":1800},{"t":1961.14,"b":600,"r":2000},{"t":1961.18,"b":600,"r":2000},{"t":1961.22,"b":500,"r":1800},{"t":1961.26,"b":450,"r":1600},{"t":1961.30,"b":400,"r":1500},{"t":1961.34,"b":400,"r":1400},{"t":1961.38,"b":350,"r":1300},{"t":1961.42,"b":350,"r":1300},{"t":1961.46,"b":450,"r":1500},{"t":1961.52,"b":500,"r":1700},{"t":1961.56,"b":500,"r":1800},{"t":1961.62,"b":500,"r":1700},{"t":1961.66,"b":350,"r":1200},{"t":1961.70,"b":350,"r":1300},{"t":1961.76,"b":400,"r":1400},{"t":1961.82,"b":350,"r":1200},{"t":1961.86,"b":300,"r":1000},{"t":1961.90,"b":300,"r":1000},{"t":1961.94,"b":300,"r":1000},{"t":1961.98,"b":300,"r":900},{"t":1962.02,"b":250,"r":900},{"t":1962.06,"b":300,"r":1000},{"t":1962.10,"b":300,"r":1000},{"t":1962.14,"b":250,"r":800},{"t":1962.18,"b":250,"r":800},{"t":1962.22,"b":250,"r":900},{"t":1962.26,"b":300,"r":1000},{"t":1962.32,"b":250,"r":900},{"t":1962.36,"b":250,"r":800},{"t":1962.40,"b":300,"r":900},{"t":1962.44,"b":300,"r":1000},{"t":1962.52,"b":400,"r":1300},{"t":1962.58,"b":400,"r":1500},{"t":1962.66,"b":400,"r":1400},{"t":1962.70,"b":400,"r":1300},{"t":1962.80,"b":400,"r":1300},{"t":1962.84,"b":400,"r":1200},{"t":1962.88,"b":350,"r":1100},{"t":1962.92,"b":350,"r":1100},{"t":1962.96,"b":350,"r":1100},{"t":1963.00,"b":300,"r":1000},{"t":1963.04,"b":350,"r":1200},{"t":1963.12,"b":300,"r":1000},{"t":1963.16,"b":300,"r":1000},{"t":1963.20,"b":250,"r":900},{"t":1963.24,"b":250,"r":900},{"t":1963.28,"b":250,"r":800},{"t":1963.32,"b":250,"r":800},{"t":1963.38,"b":300,"r":1000},{"t":1963.42,"b":350,"r":1100},{"t":1963.54,"b":400,"r":1400},{"t":1963.58,"b":350,"r":1200},{"t":1963.62,"b":300,"r":1000},{"t":1963.66,"b":300,"r":900},{"t":1963.70,"b":250,"r":900},{"t":1963.74,"b":250,"r":900},{"t":1963.78,"b":150,"r":400},{"t":1963.82,"b":100,"r":300},{"t":1963.86,"b":100,"r":250},{"t":1963.90,"b":80,"r":200},{"t":1963.94,"b":80,"r":200},{"t":1963.98,"b":80,"r":200},{"t":1964.02,"b":80,"r":200},{"t":1964.06,"b":80,"r":150},{"t":1964.10,"b":80,"r":150},{"t":1964.14,"b":80,"r":200},{"t":1964.18,"b":80,"r":200},{"t":1964.22,"b":100,"r":250},{"t":1964.26,"b":100,"r":250},{"t":1964.30,"b":120,"r":300},{"t":1964.36,"b":200,"r":500},{"t":1964.40,"b":200,"r":600},{"t":1964.44,"b":200,"r":700},{"t":1964.48,"b":200,"r":700},{"t":1964.52,"b":200,"r":700},{"t":1964.56,"b":250,"r":800},{"t":1964.60,"b":250,"r":800},{"t":1964.64,"b":200,"r":700},{"t":1964.68,"b":200,"r":600},{"t":1964.72,"b":150,"r":500},{"t":1964.76,"b":150,"r":500},{"t":1964.80,"b":150,"r":400},{"t":1964.84,"b":150,"r":400},{"t":1964.88,"b":150,"r":400},{"t":1964.96,"b":200,"r":600},{"t":1965.00,"b":200,"r":700},{"t":1965.04,"b":200,"r":700},{"t":1965.08,"b":200,"r":600},{"t":1965.12,"b":250,"r":800},{"t":1965.16,"b":250,"r":900},{"t":1965.20,"b":250,"r":800},{"t":1965.24,"b":200,"r":700},{"t":1965.28,"b":200,"r":700},{"t":1965.32,"b":250,"r":800},{"t":1965.36,"b":250,"r":800},{"t":1965.44,"b":400,"r":1200},{"t":1965.48,"b":350,"r":1000},{"t":1965.52,"b":300,"r":900},{"t":1965.56,"b":300,"r":900},{"t":1965.60,"b":250,"r":800},{"t":1965.64,"b":250,"r":800},{"t":1965.68,"b":250,"r":800},{"t":1965.72,"b":250,"r":800},{"t":1965.80,"b":250,"r":800},{"t":1965.84,"b":300,"r":900},{"t":1965.92,"b":250,"r":800},{"t":1965.96,"b":250,"r":800},{"t":1966.00,"b":250,"r":700},{"t":1966.04,"b":250,"r":700},{"t":1966.08,"b":300,"r":800},{"t":1966.12,"b":300,"r":800}
]},
"encoding":{
 "x":{"field":"t","type":"quantitative","scale":{"domain":[1938.81,1966.16],"nice":false,"zero":false},
  "axis":{"values":[1940,1945,1950,1955,1960,1965],"format":"d","title":null,"labelFont":"Liberation Sans","labelFontSize":13,"labelFontWeight":"bold","labelColor":"black","labelPadding":3,"tickColor":"#444","tickSize":5,"domainColor":"#6e6e6e","domainWidth":2.5,"gridColor":"#b8b8b8","gridWidth":1}}
},
"layer":[
 {"mark":{"type":"line","strokeWidth":1.6,"clip":true},
  "encoding":{
   "y":{"field":"b","type":"quantitative","scale":{"domain":[0,11145],"nice":false},
    "axis":{"values":[0,2000,4000,6000,8000,10000],"format":",d","title":"Flow (cfs)","titleFont":"Liberation Sans","titleFontSize":12,"titleFontWeight":"bold","titleColor":"black","titlePadding":6,"labelFont":"Liberation Sans","labelFontSize":13,"labelFontWeight":"bold","labelColor":"black","labelPadding":4,"tickColor":"#222","tickSize":5,"domainColor":"#111","domainWidth":1.5,"gridColor":"#b8b8b8","gridWidth":1}},
   "color":{"datum":"BRGR30\u00a0 FLOW","type":"nominal","scale":{"domain":["BRGR30\u00a0 FLOW","BRAQ33\u00a0 FLOW"],"range":["#0000ff","#ff0000"]},
    "legend":{"orient":"none","legendX":-74,"legendY":543,"direction":"horizontal","columns":2,"columnPadding":426,"symbolType":"stroke","symbolSize":1024,"symbolStrokeWidth":1,"labelFont":"Liberation Sans","labelFontSize":17,"labelFontWeight":"bold","labelColor":"black","labelOffset":2,"labelLimit":400,"title":null}}
  }},
 {"mark":{"type":"line","strokeWidth":1.8,"clip":true},
  "encoding":{
   "y":{"field":"r","type":"quantitative"},
   "color":{"datum":"BRAQ33\u00a0 FLOW","type":"nominal"}
  }}
]
}
